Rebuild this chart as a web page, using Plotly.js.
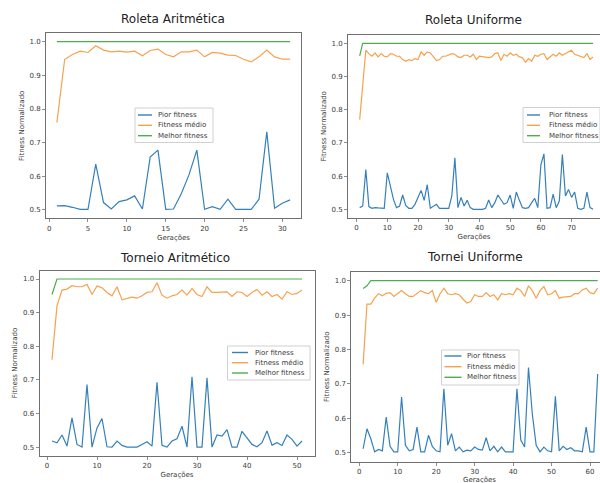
<!DOCTYPE html>
<html><head><meta charset="utf-8">
<script src="https://cdn.plot.ly/plotly-3.0.1.min.js"></script>
<style>html,body{margin:0;padding:0;background:#fff;overflow:hidden}#chart{width:600px;height:483px}</style>
</head><body><div id="chart"></div>
<script>
const seriesNames = ['Pior fitness', 'Fitness médio', 'Melhor fitness'];
const panelTitles = ['Roleta Aritmética', 'Roleta Uniforme', 'Torneio Aritmético', 'Tornei Uniforme'];
const xTitle = 'Gerações';
const yTitle = 'Fitness Normalizado';
const yTickVals = [0.5, 0.6, 0.7, 0.8, 0.9, 1.0];

// Roleta Aritmética (gerações 1..31)
const raPior = [0.512,0.513,0.508,0.502,0.502,0.636,0.522,0.503,0.525,0.530,
  0.542,0.503,0.657,0.678,0.502,0.503,0.548,0.605,0.678,0.502,
  0.510,0.502,0.532,0.502,0.502,0.502,0.532,0.732,0.505,0.520,0.530];
const raMedio = [0.760,0.947,0.962,0.972,0.968,0.988,0.975,0.970,0.972,0.969,
  0.972,0.958,0.974,0.978,0.962,0.955,0.970,0.970,0.975,0.955,
  0.968,0.966,0.960,0.959,0.948,0.940,0.955,0.975,0.955,0.948,0.948];
const raMelhor = [1,1,1,1,1,1,1,1,1,1, 1,1,1,1,1,1,1,1,1,1, 1,1,1,1,1,1,1,1,1,1,1];

// Roleta Uniforme (gerações 1..77)
const ruPior = [0.505,0.510,0.620,0.508,0.503,0.505,0.504,0.503,0.503,0.610,
  0.570,0.530,0.505,0.510,0.543,0.512,0.503,0.503,0.515,0.536,
  0.557,0.527,0.574,0.503,0.510,0.515,0.503,0.503,0.503,0.503,
  0.540,0.655,0.505,0.536,0.510,0.527,0.505,0.500,0.500,0.500,
  0.500,0.503,0.528,0.505,0.520,0.543,0.530,0.515,0.520,0.543,
  0.503,0.552,0.527,0.505,0.503,0.505,0.520,0.533,0.505,0.634,
  0.667,0.503,0.505,0.546,0.505,0.525,0.665,0.540,0.560,0.536,
  0.552,0.503,0.500,0.503,0.552,0.505,0.500];
const ruMedio = [0.770,0.870,0.979,0.969,0.961,0.971,0.959,0.969,0.961,0.959,
  0.969,0.967,0.961,0.961,0.951,0.946,0.951,0.948,0.954,0.951,
  0.974,0.964,0.974,0.971,0.959,0.948,0.951,0.961,0.961,0.964,
  0.969,0.967,0.959,0.957,0.964,0.964,0.959,0.967,0.951,0.961,
  0.959,0.957,0.957,0.959,0.969,0.971,0.948,0.967,0.961,0.971,
  0.964,0.967,0.959,0.957,0.943,0.954,0.946,0.964,0.961,0.967,
  0.969,0.951,0.959,0.967,0.961,0.971,0.964,0.969,0.974,0.979,
  0.967,0.964,0.959,0.957,0.969,0.951,0.959];
const ruMelhor = [0.962,1,1,1,1,1,1,1,1,1, 1,1,1,1,1,1,1,1,1,1,
  1,1,1,1,1,1,1,1,1,1, 1,1,1,1,1,1,1,1,1,1, 1,1,1,1,1,1,1,1,1,1,
  1,1,1,1,1,1,1,1,1,1, 1,1,1,1,1,1,1,1,1,1, 1,1,1,1,1,1,1];

// Torneio Aritmético (gerações 1..51)
const taPior = [0.518,0.513,0.536,0.503,0.587,0.508,0.500,0.686,0.500,0.557,
  0.585,0.501,0.500,0.518,0.505,0.500,0.500,0.500,0.508,0.516,
  0.503,0.693,0.505,0.500,0.518,0.525,0.562,0.500,0.709,0.500,
  0.500,0.706,0.500,0.536,0.533,0.552,0.500,0.500,0.547,0.528,
  0.508,0.501,0.513,0.548,0.506,0.513,0.505,0.536,0.523,0.503,0.518];
const taMedio = [0.760,0.920,0.967,0.970,0.980,0.977,0.977,0.984,0.954,0.979,
  0.974,0.960,0.950,0.977,0.938,0.943,0.946,0.943,0.950,0.960,
  0.962,0.989,0.952,0.943,0.950,0.954,0.967,0.952,0.972,0.954,
  0.948,0.977,0.960,0.960,0.960,0.962,0.948,0.962,0.960,0.948,
  0.960,0.969,0.952,0.962,0.948,0.954,0.940,0.962,0.954,0.957,0.967];
const taMelhor = [0.954,1,1,1,1,1,1,1,1,1, 1,1,1,1,1,1,1,1,1,1,
  1,1,1,1,1,1,1,1,1,1, 1,1,1,1,1,1,1,1,1,1, 1,1,1,1,1,1,1,1,1,1,1];

// Tornei Uniforme (gerações 1..62)
const tuPior = [0.512,0.570,0.541,0.503,0.510,0.506,0.604,0.519,0.503,0.503,
  0.662,0.522,0.506,0.510,0.575,0.503,0.503,0.551,0.519,0.506,
  0.503,0.686,0.522,0.556,0.506,0.517,0.503,0.508,0.506,0.517,
  0.510,0.508,0.544,0.506,0.519,0.503,0.517,0.503,0.503,0.503,
  0.686,0.537,0.517,0.748,0.613,0.522,0.503,0.517,0.506,0.503,
  0.664,0.506,0.519,0.510,0.515,0.506,0.506,0.503,0.575,0.503,
  0.503,0.729];
const tuMedio = [0.757,0.932,0.932,0.949,0.962,0.956,0.963,0.965,0.954,0.962,
  0.971,0.962,0.954,0.954,0.962,0.971,0.965,0.962,0.971,0.937,
  0.962,0.978,0.962,0.959,0.962,0.959,0.946,0.935,0.939,0.959,
  0.954,0.954,0.965,0.954,0.959,0.944,0.962,0.959,0.962,0.959,
  0.978,0.971,0.954,0.985,0.971,0.949,0.971,0.983,0.959,0.962,
  0.971,0.949,0.952,0.954,0.954,0.962,0.962,0.973,0.978,0.965,
  0.962,0.978];
const tuMelhor = [0.977,0.985,1,1,1,1,1,1,1,1, 1,1,1,1,1,1,1,1,1,1,
  1,1,1,1,1,1,1,1,1,1, 1,1,1,1,1,1,1,1,1,1, 1,1,1,1,1,1,1,1,1,1,
  1,1,1,1,1,1,1,1,1,1, 1,1];

const W = 600, H = 483;
const FONT = '"DejaVu Sans", "Liberation Sans", sans-serif';
const COLORS = ['#3580bb', '#f8a14d', '#4cae4c'];
const TEXT = '#3a3a3a';
const SPINE = '#707070';

// layout geometry (pixels in the 600x483 page); xtPos: x-title as annotation when set
const panels = [
  {data: [raPior, raMedio, raMelhor], title: panelTitles[0], titlePos: [173, 19],
   xd: [46, 301], yd: [33.3, 218.4], xr: [-0.4, 32.4], dtick: 5, xtl: 3, xstand: 3, xtPos: null,
   leg: {box: [135, 108, 213, 142.5], rows: [115, 125.3, 135.7], line: [138, 152], text: 156}},
  {data: [ruPior, ruMedio, ruMelhor], title: panelTitles[1], titlePos: [473, 20],
   xd: [348, 600], yd: [35, 217.6], xr: [-2.8, 79.25], dtick: 10, xtl: 3, xstand: 3, xtPos: null,
   leg: {box: [523, 107.5, 600, 142.5], rows: [115, 125.3, 135.7], line: [527, 540], text: 546.5}},
  {data: [taPior, taMedio, taMelhor], title: panelTitles[2], titlePos: [175, 258],
   xd: [39.5, 314.5], yd: [270.6, 455.5], xr: [-1.5, 53.5], dtick: 10, xtl: 3.5, xstand: 2, xtPos: null,
   leg: {box: [227.5, 346, 310, 380], rows: [352.5, 362.7, 373], line: [232, 248], text: 253}},
  {data: [tuPior, tuMedio, tuMelhor], title: panelTitles[3], titlePos: [475, 257],
   xd: [351.4, 600], yd: [272, 461.5], xr: [-2.05, 62.6], dtick: 10, xtl: 3, xstand: 3, xtPos: [479, 479.5],
   leg: {box: [441.5, 350, 519, 385], rows: [356, 366.7, 377.3], line: [444.5, 461.5], text: 465}}
];

const px = v => v / W;
const py = v => 1 - v / H;

const traces = [];
const layout = {
  width: W, height: H, margin: {l: 0, r: 0, t: 0, b: 0},
  paper_bgcolor: '#fff', plot_bgcolor: '#fff', showlegend: false,
  font: {family: FONT, size: 7, color: TEXT},
  shapes: [], annotations: []
};

panels.forEach((p, i) => {
  const s = i === 0 ? '' : String(i + 1);
  const axCommon = {
    showline: true, mirror: true, linecolor: SPINE, linewidth: 1,
    ticks: 'outside', ticklen: 3, tickwidth: 0.8, tickcolor: SPINE,
    showgrid: false, zeroline: false, fixedrange: true,
    tickfont: {family: FONT, size: 7, color: TEXT}
  };
  const xax = Object.assign({}, axCommon, {
    domain: [px(p.xd[0]), px(p.xd[1])], range: p.xr, anchor: 'y' + s,
    tick0: 0, dtick: p.dtick, ticklen: p.xtl
  });
  if (p.xtPos) {
    layout.annotations.push({
      text: xTitle, xref: 'paper', yref: 'paper', x: px(p.xtPos[0]), y: py(p.xtPos[1]),
      xanchor: 'center', yanchor: 'middle', showarrow: false, borderpad: 0,
      font: {family: FONT, size: 7, color: TEXT}
    });
  } else {
    xax.title = {text: xTitle, font: {family: FONT, size: 7, color: TEXT}, standoff: p.xstand};
  }
  layout['xaxis' + s] = xax;
  layout['yaxis' + s] = Object.assign({}, axCommon, {
    domain: [py(p.yd[1]), py(p.yd[0])], range: [0.475, 1.025], anchor: 'x' + s,
    tickvals: yTickVals, tickformat: '.1f',
    title: {text: yTitle, font: {family: FONT, size: 7, color: TEXT}, standoff: 4}
  });
  p.data.forEach((vals, k) => {
    traces.push({
      type: 'scatter', mode: 'lines', name: seriesNames[k],
      x0: 1, dx: 1, y: vals, xaxis: 'x' + s, yaxis: 'y' + s,
      line: {color: COLORS[k], width: 1.2}, hoverinfo: 'skip'
    });
  });
  layout.annotations.push({
    text: p.title, xref: 'paper', yref: 'paper', x: px(p.titlePos[0]), y: py(p.titlePos[1]),
    xanchor: 'center', yanchor: 'middle', showarrow: false,
    font: {family: FONT, size: 12, color: '#222'}
  });
  // legend (decoration)
  const L = p.leg;
  layout.shapes.push({type: 'rect', xref: 'paper', yref: 'paper',
    x0: px(L.box[0]), x1: px(L.box[2]), y0: py(L.box[3]), y1: py(L.box[1]),
    line: {color: '#d0d0d0', width: 1}, fillcolor: 'rgba(255,255,255,0.85)', layer: 'above'});
  seriesNames.forEach((nm, k) => {
    layout.shapes.push({type: 'line', xref: 'paper', yref: 'paper',
      x0: px(L.line[0]), x1: px(L.line[1]), y0: py(L.rows[k]), y1: py(L.rows[k]),
      line: {color: COLORS[k], width: 1.4}, layer: 'above'});
    layout.annotations.push({text: nm, xref: 'paper', yref: 'paper',
      x: px(L.text), y: py(L.rows[k]), xanchor: 'left', yanchor: 'middle', showarrow: false,
      font: {family: FONT, size: 7, color: TEXT}});
  });
});

Plotly.newPlot('chart', traces, layout, {staticPlot: true, displayModeBar: false});
</script>
</body></html>
